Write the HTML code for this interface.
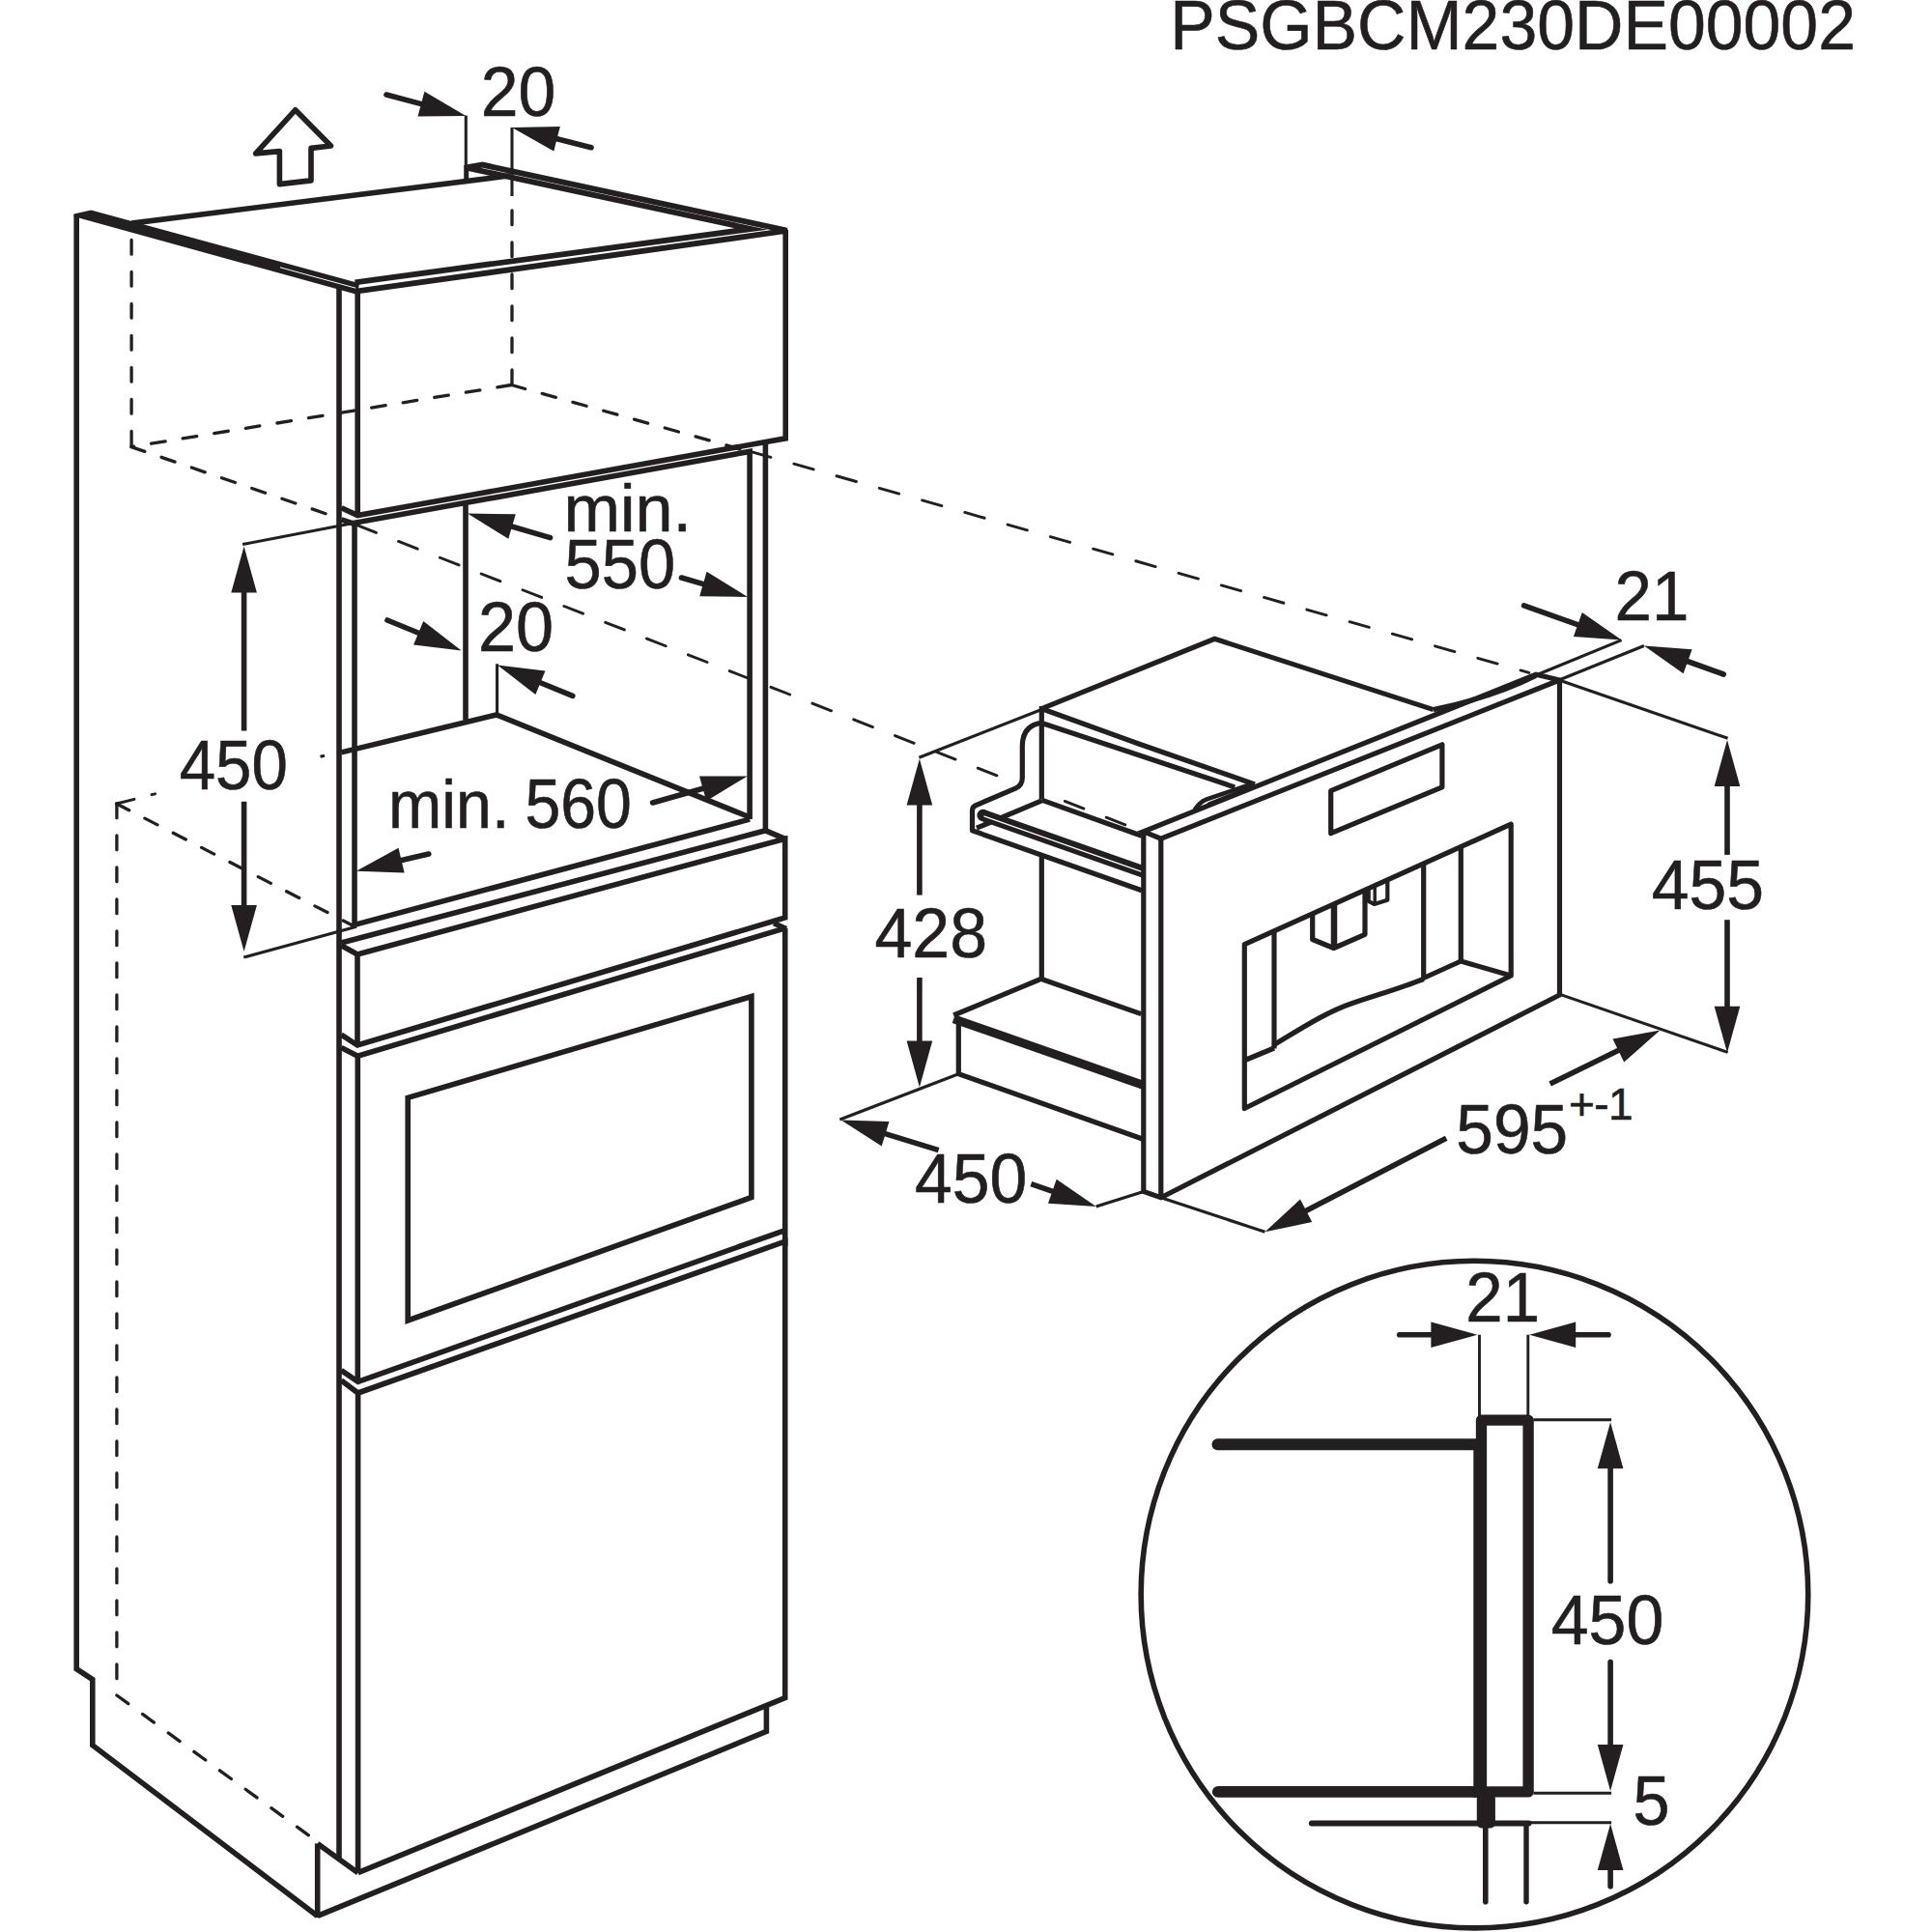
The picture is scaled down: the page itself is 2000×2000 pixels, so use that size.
<!DOCTYPE html>
<html><head><meta charset="utf-8"><title>PSGBCM230DE00002</title>
<style>
html,body{margin:0;padding:0;background:#fff;}
body{width:2000px;height:2000px;overflow:hidden;}
svg{display:block;}
text{font-family:"Liberation Sans",sans-serif;fill:#231f20;stroke:#231f20;stroke-width:0.6px;}
</style></head><body>
<svg width="2000" height="2000" viewBox="0 0 2000 2000">
<rect width="2000" height="2000" fill="#fff"/>
<text transform="translate(1211.2 50.5) scale(0.9626 1)" font-size="72.5" text-anchor="start" >PSGBCM230DE00002</text>
<path d="M305.7,113.8 L342.5,151 L322,153.4 L322,186.9 L289.4,190.6 L289.4,156.6 L264.7,158.9 Z" stroke="#231f20" stroke-width="5.6" fill="none" stroke-linecap="butt" stroke-linejoin="round"/>
<path d="M482.3,119.6 L482.3,173.0" stroke="#231f20" stroke-width="3.1" fill="none" stroke-linecap="butt" stroke-linejoin="miter"/>
<path d="M400.0,98.0 L437.9,108.1" stroke="#231f20" stroke-width="5.6" fill="none" stroke-linecap="round" stroke-linejoin="miter"/>
<polygon points="482.3,120.0 432.5,120.5 439.4,94.8" fill="#231f20" stroke="none" stroke-width="0"/>
<text transform="translate(497.78 120.3) scale(0.9756 1)" font-size="71.5" >20</text>
<path d="M530.0,132.0 L530.0,203.0" stroke="#231f20" stroke-width="3.1" fill="none" stroke-linecap="butt" stroke-linejoin="miter"/>
<path d="M530.0,218.0 L530.0,398.5" stroke="#231f20" stroke-width="3.3" fill="none" stroke-linecap="round" stroke-linejoin="miter" stroke-dasharray="14.7 18.3"/>
<path d="M612.0,152.7 L574.6,143.3" stroke="#231f20" stroke-width="5.6" fill="none" stroke-linecap="round" stroke-linejoin="miter"/>
<polygon points="530.0,132.0 579.8,130.9 573.3,156.6" fill="#231f20" stroke="none" stroke-width="0"/>
<path d="M136.3,231.1 L528.0,181.8" stroke="#231f20" stroke-width="5.6" fill="none" stroke-linecap="butt" stroke-linejoin="miter"/>
<path d="M482.7,171.0 L482.7,189.0" stroke="#231f20" stroke-width="5" fill="none" stroke-linecap="butt" stroke-linejoin="miter"/>
<polygon points="76.5,221.6 94.3,217.6 372.0,293.2 370.0,305.0 81.4,225.6 76.5,224.5" fill="#231f20" stroke="none" stroke-width="0"/>
<path d="M290.0,276.8 L368.2,298.2" stroke="#fff" stroke-width="1.0" fill="none" stroke-linecap="butt" stroke-linejoin="miter"/>
<path d="M482.7,173.3 L499.5,170.6 L813.4,238.4" stroke="#231f20" stroke-width="5.9" fill="none" stroke-linecap="butt" stroke-linejoin="miter"/>
<path d="M815.5,238.7 L370.1,301.4" stroke="#231f20" stroke-width="5.9" fill="none" stroke-linecap="butt" stroke-linejoin="miter"/>
<path d="M485.3,174.2 L777.6,237.0 L367.5,292.3" stroke="#231f20" stroke-width="5.9" fill="none" stroke-linecap="butt" stroke-linejoin="miter" stroke-miterlimit="12"/>
<path d="M79.2,222.5 L79.2,1727.7 L95.8,1738.6 L95.8,1806.7 L328.7,1983.4" stroke="#231f20" stroke-width="5.6" fill="none" stroke-linecap="butt" stroke-linejoin="miter"/>
<path d="M328.7,1908.4 L328.7,1985.0" stroke="#231f20" stroke-width="5.6" fill="none" stroke-linecap="butt" stroke-linejoin="miter"/>
<path d="M328.7,1908.4 L370.6,1938.7" stroke="#231f20" stroke-width="5.6" fill="none" stroke-linecap="butt" stroke-linejoin="miter"/>
<path d="M351.0,296.0 L351.0,1923.0" stroke="#231f20" stroke-width="5.6" fill="none" stroke-linecap="butt" stroke-linejoin="miter"/>
<path d="M370.2,302.0 L370.2,534.3" stroke="#231f20" stroke-width="5.6" fill="none" stroke-linecap="butt" stroke-linejoin="miter"/>
<path d="M367.0,541.3 L367.0,958.0" stroke="#231f20" stroke-width="5.6" fill="none" stroke-linecap="butt" stroke-linejoin="miter"/>
<path d="M370.0,988.0 L370.0,1082.0" stroke="#231f20" stroke-width="5.6" fill="none" stroke-linecap="butt" stroke-linejoin="miter"/>
<path d="M370.3,1093.2 L370.3,1430.3" stroke="#231f20" stroke-width="5.6" fill="none" stroke-linecap="butt" stroke-linejoin="miter"/>
<path d="M370.6,1442.0 L370.6,1938.7" stroke="#231f20" stroke-width="5.6" fill="none" stroke-linecap="butt" stroke-linejoin="miter"/>
<path d="M813.2,238.0 L813.2,453.8 L370.2,533.6 L353.5,525.8" stroke="#231f20" stroke-width="5.6" fill="none" stroke-linecap="butt" stroke-linejoin="miter"/>
<path d="M776.1,848.1 L776.1,467.4 L364.6,541.7 L353.5,537.8" stroke="#231f20" stroke-width="5.6" fill="none" stroke-linecap="butt" stroke-linejoin="miter"/>
<path d="M792.4,458.0 L792.4,859.8" stroke="#231f20" stroke-width="5.6" fill="none" stroke-linecap="butt" stroke-linejoin="miter"/>
<path d="M482.0,523.0 L482.0,745.5" stroke="#231f20" stroke-width="5.6" fill="none" stroke-linecap="butt" stroke-linejoin="miter"/>
<path d="M353.3,778.9 L514.0,740.0 L776.1,846.0" stroke="#231f20" stroke-width="5.6" fill="none" stroke-linecap="butt" stroke-linejoin="miter"/>
<path d="M514.6,687.3 L514.6,740.0" stroke="#231f20" stroke-width="3.1" fill="none" stroke-linecap="butt" stroke-linejoin="miter"/>
<path d="M776.1,848.1 L367.0,957.4" stroke="#231f20" stroke-width="5.6" fill="none" stroke-linecap="butt" stroke-linejoin="miter"/>
<path d="M331.5,783.3 L336.0,782.2" stroke="#231f20" stroke-width="3.1" fill="none" stroke-linecap="butt" stroke-linejoin="miter"/>
<path d="M353.3,976.0 L792.5,859.8 L812.7,868.3" stroke="#231f20" stroke-width="5.6" fill="none" stroke-linecap="butt" stroke-linejoin="miter"/>
<path d="M353.3,978.7 L370.0,988.0 L812.7,868.3 L812.7,950.0 L370.0,1082.0 L353.3,1071.2" stroke="#231f20" stroke-width="5.6" fill="none" stroke-linecap="butt" stroke-linejoin="miter"/>
<path d="M353.3,1084.4 L370.3,1093.2 L812.7,960.9" stroke="#231f20" stroke-width="5.6" fill="none" stroke-linecap="butt" stroke-linejoin="miter"/>
<path d="M814.0,961.5 L801.1,955.7" stroke="#231f20" stroke-width="5.6" fill="none" stroke-linecap="butt" stroke-linejoin="miter"/>
<path d="M812.7,960.9 L812.7,1290.0" stroke="#231f20" stroke-width="5.6" fill="none" stroke-linecap="butt" stroke-linejoin="miter"/>
<path d="M422.2,1136.4 L777.9,1031.6 L777.9,1239.5 L422.2,1367 Z" stroke="#231f20" stroke-width="5.6" fill="none" stroke-linecap="butt" stroke-linejoin="miter"/>
<path d="M353.3,1418.7 L370.6,1430.3 L812.7,1273.6" stroke="#231f20" stroke-width="5.6" fill="none" stroke-linecap="butt" stroke-linejoin="miter"/>
<path d="M353.3,1429.0 L370.6,1442.0 L812.7,1285.2 L812.7,1757.5 L370.6,1938.7" stroke="#231f20" stroke-width="5.6" fill="none" stroke-linecap="butt" stroke-linejoin="miter"/>
<path d="M793.4,1764.0 L793.4,1792.4 L328.7,1983.4" stroke="#231f20" stroke-width="5.6" fill="none" stroke-linecap="butt" stroke-linejoin="miter"/>
<path d="M136.1,248.5 L136.1,462.6" stroke="#231f20" stroke-width="3.3" fill="none" stroke-linecap="round" stroke-linejoin="miter" stroke-dasharray="14.7 18.3"/>
<path d="M529.4,398.5 L135.9,462.6" stroke="#231f20" stroke-width="3.3" fill="none" stroke-linecap="round" stroke-linejoin="miter" stroke-dasharray="14.7 18.3"/>
<path d="M135.9,462.6 L351.0,536.5" stroke="#231f20" stroke-width="3.3" fill="none" stroke-linecap="round" stroke-linejoin="miter" stroke-dasharray="14.7 18.3"/>
<path d="M529.4,398.5 L772.0,466.5" stroke="#231f20" stroke-width="3.3" fill="none" stroke-linecap="round" stroke-linejoin="miter" stroke-dasharray="14.7 18.3"/>
<path d="M777.6,467.6 L1582.8,696.4" stroke="#231f20" stroke-width="2.9" fill="none" stroke-linecap="round" stroke-linejoin="miter" stroke-dasharray="21.1 24.9" stroke-dashoffset="0"/>
<path d="M369.7,543.7 L1040.0,806.0" stroke="#231f20" stroke-width="2.9" fill="none" stroke-linecap="round" stroke-linejoin="miter" stroke-dasharray="21.1 24.9" stroke-dashoffset="0"/>
<path d="M1102.3,829.4 L1169.0,855.5" stroke="#231f20" stroke-width="2.9" fill="none" stroke-linecap="round" stroke-linejoin="miter" stroke-dasharray="21.1 24.9" stroke-dashoffset="0"/>
<path d="M120.6,832.0 L365.0,958.0" stroke="#231f20" stroke-width="3.3" fill="none" stroke-linecap="round" stroke-linejoin="miter" stroke-dasharray="14.7 18.3"/>
<path d="M120.9,832.0 L120.9,1755.0" stroke="#231f20" stroke-width="3.3" fill="none" stroke-linecap="round" stroke-linejoin="miter" stroke-dasharray="14.7 18.3"/>
<path d="M120.9,1755.0 L321.0,1901.0" stroke="#231f20" stroke-width="3.3" fill="none" stroke-linecap="round" stroke-linejoin="miter" stroke-dasharray="14.7 18.3"/>
<path d="M120.6,832.0 L139.0,827.3" stroke="#231f20" stroke-width="2.9" fill="none" stroke-linecap="round" stroke-linejoin="miter"/>
<path d="M157.0,822.7 L160.5,821.8" stroke="#231f20" stroke-width="2.9" fill="none" stroke-linecap="round" stroke-linejoin="miter"/>
<path d="M251.1,563.6 L364.6,541.7" stroke="#231f20" stroke-width="3.1" fill="none" stroke-linecap="butt" stroke-linejoin="miter"/>
<path d="M252.3,991.0 L369.0,959.2" stroke="#231f20" stroke-width="3.1" fill="none" stroke-linecap="butt" stroke-linejoin="miter"/>
<path d="M252.6,756.6 L252.6,611.6" stroke="#231f20" stroke-width="5.6" fill="none" stroke-linecap="butt" stroke-linejoin="miter"/>
<polygon points="252.6,565.6 265.9,613.6 239.3,613.6" fill="#231f20" stroke="none" stroke-width="0"/>
<path d="M252.6,829.8 L252.6,939.0" stroke="#231f20" stroke-width="5.6" fill="none" stroke-linecap="butt" stroke-linejoin="miter"/>
<polygon points="252.6,985.0 239.3,937.0 265.9,937.0" fill="#231f20" stroke="none" stroke-width="0"/>
<text transform="translate(185.68 817.0) scale(0.9411 1)" font-size="71.5" >450</text>
<text transform="translate(583.42 549.6) scale(1.0175 1)" font-size="69" >min.</text>
<text transform="translate(584.50 608.6) scale(0.9606 1)" font-size="71.5" >550</text>
<path d="M569.5,556.6 L528.1,544.5" stroke="#231f20" stroke-width="5.6" fill="none" stroke-linecap="round" stroke-linejoin="miter"/>
<polygon points="484.0,531.5 533.8,532.3 526.3,557.8" fill="#231f20" stroke="none" stroke-width="0"/>
<path d="M705.4,598.0 L729.8,605.1" stroke="#231f20" stroke-width="5.6" fill="none" stroke-linecap="round" stroke-linejoin="miter"/>
<polygon points="774.0,618.0 724.2,617.3 731.6,591.8" fill="#231f20" stroke="none" stroke-width="0"/>
<text transform="translate(495.06 673.8) scale(0.9824 1)" font-size="71.5" >20</text>
<path d="M401.0,642.0 L435.1,656.0" stroke="#231f20" stroke-width="5.6" fill="none" stroke-linecap="round" stroke-linejoin="miter"/>
<polygon points="477.6,673.5 428.1,667.5 438.3,642.9" fill="#231f20" stroke="none" stroke-width="0"/>
<path d="M592.8,720.4 L557.6,706.0" stroke="#231f20" stroke-width="5.6" fill="none" stroke-linecap="round" stroke-linejoin="miter"/>
<polygon points="515.0,688.6 564.5,694.4 554.4,719.1" fill="#231f20" stroke="none" stroke-width="0"/>
<text transform="translate(402.03 857.3) scale(0.9475 1)" font-size="70" >min.</text>
<text transform="translate(543.39 857.3) scale(0.9264 1)" font-size="71.5" >560</text>
<path d="M675.6,831.0 L729.5,815.8" stroke="#231f20" stroke-width="5.6" fill="none" stroke-linecap="round" stroke-linejoin="miter"/>
<polygon points="773.8,803.4 731.2,829.2 724.0,803.6" fill="#231f20" stroke="none" stroke-width="0"/>
<path d="M443.8,884.0 L413.6,891.1" stroke="#231f20" stroke-width="5.6" fill="none" stroke-linecap="round" stroke-linejoin="miter"/>
<polygon points="368.8,901.7 412.5,877.7 418.6,903.6" fill="#231f20" stroke="none" stroke-width="0"/>
<path d="M1078.3,731.0 L1078.3,827.5" stroke="#231f20" stroke-width="5.2" fill="none" stroke-linecap="butt" stroke-linejoin="miter"/>
<path d="M1078.3,885.0 L1078.3,1013.4" stroke="#231f20" stroke-width="5.2" fill="none" stroke-linecap="butt" stroke-linejoin="miter"/>
<path d="M1078.3,733.6 L1257.4,661.3 L1483.9,734.6" stroke="#231f20" stroke-width="5.2" fill="none" stroke-linecap="butt" stroke-linejoin="miter"/>
<path d="M1080.0,734.2 L1178.8,770.0 L1299.0,812.0" stroke="#231f20" stroke-width="5.2" fill="none" stroke-linecap="butt" stroke-linejoin="miter"/>
<path d="M1080.0,749.0 L1170.0,778.8 L1278.2,814.9" stroke="#231f20" stroke-width="5.2" fill="none" stroke-linecap="butt" stroke-linejoin="miter"/>
<path d="M1076.4,748.5 Q1058.3,752 1058.3,772.5 L1058.3,805 Q1058.3,813 1051.8,815.8 L1011,833.3 Q1006.5,835 1006.5,839 L1006.5,859.8 L1181.9,921.8" stroke="#231f20" stroke-width="5.2" fill="none" stroke-linecap="butt" stroke-linejoin="round"/>
<path d="M1011.0,857.2 L1078.3,828.8" stroke="#231f20" stroke-width="5.2" fill="none" stroke-linecap="butt" stroke-linejoin="miter"/>
<path d="M1078.3,828.1 L1181.9,865.2" stroke="#231f20" stroke-width="5.2" fill="none" stroke-linecap="butt" stroke-linejoin="miter"/>
<path d="M1017.5,844.0 L1184.0,902.6" stroke="#231f20" stroke-width="12.3" fill="none" stroke-linecap="butt" stroke-linejoin="miter"/>
<circle cx="1017.5" cy="844" r="6.15" fill="#231f20"/>
<path d="M1018.5,844.9 L1184.0,903.1" stroke="#fff" stroke-width="1.3" fill="none" stroke-linecap="butt" stroke-linejoin="miter"/>
<path d="M987.2,1051.0 L1077.7,1013.4 L1181.3,1049.6" stroke="#231f20" stroke-width="5.2" fill="none" stroke-linecap="butt" stroke-linejoin="miter"/>
<path d="M987.2,1054.8 L1183.9,1123.4" stroke="#231f20" stroke-width="9" fill="none" stroke-linecap="butt" stroke-linejoin="miter"/>
<path d="M992.3,1058.0 L992.3,1111.7 L1182.6,1179.0" stroke="#231f20" stroke-width="5.2" fill="none" stroke-linecap="butt" stroke-linejoin="miter"/>
<path d="M1183.8,859.0 L1183.8,1233.4 L1201.8,1239.7 L1614.5,1030.0 L1614.5,704.0 L1590.0,698.3 L1183.8,860.8 L1201.8,868.2 L1614.5,704.0" stroke="#231f20" stroke-width="5.2" fill="none" stroke-linecap="butt" stroke-linejoin="miter"/>
<path d="M1201.8,868.2 L1201.8,1239.7" stroke="#231f20" stroke-width="5.2" fill="none" stroke-linecap="butt" stroke-linejoin="miter"/>
<path d="M1483.9,734.6 Q1545,722 1590,699.5" stroke="#231f20" stroke-width="5.2" fill="none" stroke-linecap="butt" stroke-linejoin="miter"/>
<path d="M1297,811.2 L1248.6,827.6 Q1242,830.2 1236.5,838.6" stroke="#231f20" stroke-width="4.6" fill="none" stroke-linecap="butt" stroke-linejoin="miter"/>
<path d="M1294.0,814.6 L1250.0,832.0" stroke="#231f20" stroke-width="2.2" fill="none" stroke-linecap="butt" stroke-linejoin="miter"/>
<path d="M1377.7,818.7 L1492.9,770.8 L1492.9,814.8 L1377.7,862.7 Z" stroke="#231f20" stroke-width="5.2" fill="none" stroke-linecap="butt" stroke-linejoin="round"/>
<path d="M1288.3,977.6 L1564.2,853.2 L1564.2,1010 L1288.3,1147.5 Z" stroke="#231f20" stroke-width="5.2" fill="none" stroke-linecap="butt" stroke-linejoin="round"/>
<path d="M1319.0,964.0 L1319.0,1085.5" stroke="#231f20" stroke-width="5.2" fill="none" stroke-linecap="butt" stroke-linejoin="miter"/>
<path d="M1290.0,1097.0 L1319.0,1085.0" stroke="#231f20" stroke-width="5.2" fill="none" stroke-linecap="butt" stroke-linejoin="miter"/>
<path d="M1319,1081.5 C1345,1066 1372,1048 1400,1038.5 S1450,1023 1473.7,1013.5" stroke="#231f20" stroke-width="5.2" fill="none" stroke-linecap="butt" stroke-linejoin="miter"/>
<path d="M1473.7,894.0 L1473.7,1012.5 L1512.3,995.0 L1564.2,1010.0" stroke="#231f20" stroke-width="5.2" fill="none" stroke-linecap="butt" stroke-linejoin="round"/>
<path d="M1512.3,877.0 L1512.3,995.0" stroke="#231f20" stroke-width="5.2" fill="none" stroke-linecap="butt" stroke-linejoin="miter"/>
<path d="M1358.7,946 V972.5 L1380.7,981.5 L1413,967.3 V921.5" stroke="#231f20" stroke-width="5.2" fill="none" stroke-linecap="butt" stroke-linejoin="round"/>
<path d="M1381.0,936.0 L1381.0,981.5" stroke="#231f20" stroke-width="6.5" fill="none" stroke-linecap="butt" stroke-linejoin="miter"/>
<path d="M1416.7,920.5 V932.8 L1422.5,936 L1436.3,931.8 V911.5" stroke="#231f20" stroke-width="4.2" fill="none" stroke-linecap="butt" stroke-linejoin="round"/>
<path d="M1423.2,917.5 L1423.2,935.5" stroke="#231f20" stroke-width="3.4" fill="none" stroke-linecap="butt" stroke-linejoin="miter"/>
<path d="M1577.6,626.9 L1635.2,647.3" stroke="#231f20" stroke-width="5.6" fill="none" stroke-linecap="round" stroke-linejoin="miter"/>
<polygon points="1678.6,662.6 1628.9,659.1 1637.8,634.1" fill="#231f20" stroke="none" stroke-width="0"/>
<path d="M1784.2,698.0 L1745.2,684.0" stroke="#231f20" stroke-width="5.6" fill="none" stroke-linecap="round" stroke-linejoin="miter"/>
<polygon points="1701.9,668.5 1751.6,672.2 1742.6,697.2" fill="#231f20" stroke="none" stroke-width="0"/>
<path d="M1678.6,662.6 L1590.6,698.8" stroke="#231f20" stroke-width="3.1" fill="none" stroke-linecap="butt" stroke-linejoin="miter"/>
<path d="M1701.9,668.5 L1613.9,704.0" stroke="#231f20" stroke-width="3.1" fill="none" stroke-linecap="butt" stroke-linejoin="miter"/>
<text transform="translate(1671.6 641.9) scale(0.965 1)" font-size="71.5" text-anchor="start" >21</text>
<path d="M1613.9,704.0 L1788.6,764.3" stroke="#231f20" stroke-width="3.1" fill="none" stroke-linecap="butt" stroke-linejoin="miter"/>
<path d="M1614.9,1029.4 L1788.6,1089.4" stroke="#231f20" stroke-width="3.1" fill="none" stroke-linecap="butt" stroke-linejoin="miter"/>
<path d="M1788.0,884.9 L1788.0,812.0" stroke="#231f20" stroke-width="5.6" fill="none" stroke-linecap="butt" stroke-linejoin="miter"/>
<polygon points="1788.0,766.0 1801.3,814.0 1774.7,814.0" fill="#231f20" stroke="none" stroke-width="0"/>
<path d="M1788.0,952.2 L1788.0,1043.8" stroke="#231f20" stroke-width="5.6" fill="none" stroke-linecap="butt" stroke-linejoin="miter"/>
<polygon points="1788.0,1089.8 1774.7,1041.8 1801.3,1041.8" fill="#231f20" stroke="none" stroke-width="0"/>
<text transform="translate(1709.73 940.8) scale(0.9757 1)" font-size="71.5" >455</text>
<path d="M1201.8,1239.7 L1309.5,1275.3" stroke="#231f20" stroke-width="3.1" fill="none" stroke-linecap="butt" stroke-linejoin="miter"/>
<path d="M1497.2,1178.2 L1350.4,1254.2" stroke="#231f20" stroke-width="5.6" fill="none" stroke-linecap="butt" stroke-linejoin="miter"/>
<polygon points="1309.5,1275.3 1346.0,1241.4 1358.2,1265.1" fill="#231f20" stroke="none" stroke-width="0"/>
<path d="M1604.6,1122.0 L1677.1,1086.6" stroke="#231f20" stroke-width="5.6" fill="none" stroke-linecap="butt" stroke-linejoin="miter"/>
<polygon points="1718.5,1066.5 1681.2,1099.5 1669.5,1075.6" fill="#231f20" stroke="none" stroke-width="0"/>
<text transform="translate(1507.27 1194.4) scale(0.9719 1)" font-size="71.5" >595</text>
<text x="1624.0" y="1158.9" font-size="46" text-anchor="start" style="letter-spacing:-0.6px">+-1</text>
<path d="M992.3,1111.7 L869.4,1159.0" stroke="#231f20" stroke-width="3.1" fill="none" stroke-linecap="butt" stroke-linejoin="miter"/>
<path d="M971.6,1190.7 L914.7,1173.1" stroke="#231f20" stroke-width="5.6" fill="none" stroke-linecap="butt" stroke-linejoin="miter"/>
<polygon points="870.7,1159.6 920.5,1161.0 912.7,1186.4" fill="#231f20" stroke="none" stroke-width="0"/>
<path d="M1067.4,1225.6 L1091.3,1233.9" stroke="#231f20" stroke-width="5.6" fill="none" stroke-linecap="butt" stroke-linejoin="miter"/>
<polygon points="1134.7,1249.0 1085.0,1245.8 1093.7,1220.7" fill="#231f20" stroke="none" stroke-width="0"/>
<path d="M1134.7,1249.0 L1183.9,1233.4" stroke="#231f20" stroke-width="3.1" fill="none" stroke-linecap="butt" stroke-linejoin="miter"/>
<text transform="translate(947.03 1244.5) scale(0.9758 1)" font-size="71.5" >450</text>
<path d="M951.4,784.2 L1077.0,735.0" stroke="#231f20" stroke-width="3.1" fill="none" stroke-linecap="butt" stroke-linejoin="miter"/>
<path d="M951.9,926.6 L951.9,831.5" stroke="#231f20" stroke-width="5.6" fill="none" stroke-linecap="butt" stroke-linejoin="miter"/>
<polygon points="951.9,785.5 965.2,833.5 938.6,833.5" fill="#231f20" stroke="none" stroke-width="0"/>
<path d="M951.9,1012.0 L951.9,1079.5" stroke="#231f20" stroke-width="5.6" fill="none" stroke-linecap="butt" stroke-linejoin="miter"/>
<polygon points="951.9,1125.5 938.6,1077.5 965.2,1077.5" fill="#231f20" stroke="none" stroke-width="0"/>
<text transform="translate(905.43 990.7) scale(0.9774 1)" font-size="71.5" >428</text>
<circle cx="1526.45" cy="1650.6" r="345.3" fill="none" stroke="#231f20" stroke-width="5.6"/>
<path d="M1260.5,1495.3 L1530.0,1495.3" stroke="#231f20" stroke-width="12" fill="none" stroke-linecap="round" stroke-linejoin="miter"/>
<path d="M1260.8,1854.9 L1530.0,1854.9" stroke="#231f20" stroke-width="11.8" fill="none" stroke-linecap="round" stroke-linejoin="miter"/>
<path d="M1533.5,1858.0 L1533.5,1470.2 L1582.1,1470.2 L1582.1,1854.9 L1533.5,1854.9" stroke="#231f20" stroke-width="11.3" fill="none" stroke-linecap="butt" stroke-linejoin="round"/>
<path d="M1527.9,1495.3 L1527.9,1860.8" stroke="#231f20" stroke-width="5.2" fill="none" stroke-linecap="butt" stroke-linejoin="miter"/>
<rect x="1528.8" y="1857" width="19.1" height="35.5" rx="5" fill="#231f20"/>
<path d="M1357.8,1887.5 L1582.6,1887.5" stroke="#231f20" stroke-width="5.8" fill="none" stroke-linecap="round" stroke-linejoin="miter"/>
<path d="M1582.6,1886.7 L1668.1,1886.7" stroke="#231f20" stroke-width="2.9" fill="none" stroke-linecap="butt" stroke-linejoin="miter"/>
<path d="M1587.4,1856.2 L1668.1,1856.2" stroke="#231f20" stroke-width="2.9" fill="none" stroke-linecap="butt" stroke-linejoin="miter"/>
<path d="M1587.4,1469.7 L1668.1,1469.7" stroke="#231f20" stroke-width="2.9" fill="none" stroke-linecap="butt" stroke-linejoin="miter"/>
<path d="M1537.8,1890.0 L1537.8,1968.8" stroke="#231f20" stroke-width="5.6" fill="none" stroke-linecap="round" stroke-linejoin="miter"/>
<path d="M1580.0,1890.0 L1580.0,1968.8" stroke="#231f20" stroke-width="5.4" fill="none" stroke-linecap="round" stroke-linejoin="miter"/>
<path d="M1448.7,1381.7 L1483.4,1381.7" stroke="#231f20" stroke-width="5.6" fill="none" stroke-linecap="round" stroke-linejoin="miter"/>
<polygon points="1529.4,1381.7 1481.4,1395.0 1481.4,1368.4" fill="#231f20" stroke="none" stroke-width="0"/>
<path d="M1665.0,1381.7 L1629.2,1381.7" stroke="#231f20" stroke-width="5.6" fill="none" stroke-linecap="round" stroke-linejoin="miter"/>
<polygon points="1583.2,1381.7 1631.2,1368.4 1631.2,1395.0" fill="#231f20" stroke="none" stroke-width="0"/>
<path d="M1531.5,1381.7 L1531.5,1466.0" stroke="#231f20" stroke-width="2.9" fill="none" stroke-linecap="butt" stroke-linejoin="miter"/>
<path d="M1581.8,1381.7 L1581.8,1466.0" stroke="#231f20" stroke-width="2.9" fill="none" stroke-linecap="butt" stroke-linejoin="miter"/>
<text transform="translate(1517.3 1367.6) scale(0.965 1)" font-size="71.5" text-anchor="start" >21</text>
<path d="M1667.1,1636.7 L1667.1,1518.2" stroke="#231f20" stroke-width="5.6" fill="none" stroke-linecap="round" stroke-linejoin="miter"/>
<polygon points="1667.1,1472.2 1680.4,1520.2 1653.8,1520.2" fill="#231f20" stroke="none" stroke-width="0"/>
<path d="M1667.1,1720.5 L1667.1,1807.9" stroke="#231f20" stroke-width="5.6" fill="none" stroke-linecap="round" stroke-linejoin="miter"/>
<polygon points="1667.1,1853.9 1653.8,1805.9 1680.4,1805.9" fill="#231f20" stroke="none" stroke-width="0"/>
<text transform="translate(1605.73 1702.0) scale(0.9775 1)" font-size="71.5" >450</text>
<text transform="translate(1690.51 1888.5) scale(0.9565 1)" font-size="71.5" >5</text>
<path d="M1667.1,1952.7 L1667.1,1934.0" stroke="#231f20" stroke-width="5.6" fill="none" stroke-linecap="round" stroke-linejoin="miter"/>
<polygon points="1667.1,1888.0 1680.4,1936.0 1653.8,1936.0" fill="#231f20" stroke="none" stroke-width="0"/>
</svg>
</body></html>
